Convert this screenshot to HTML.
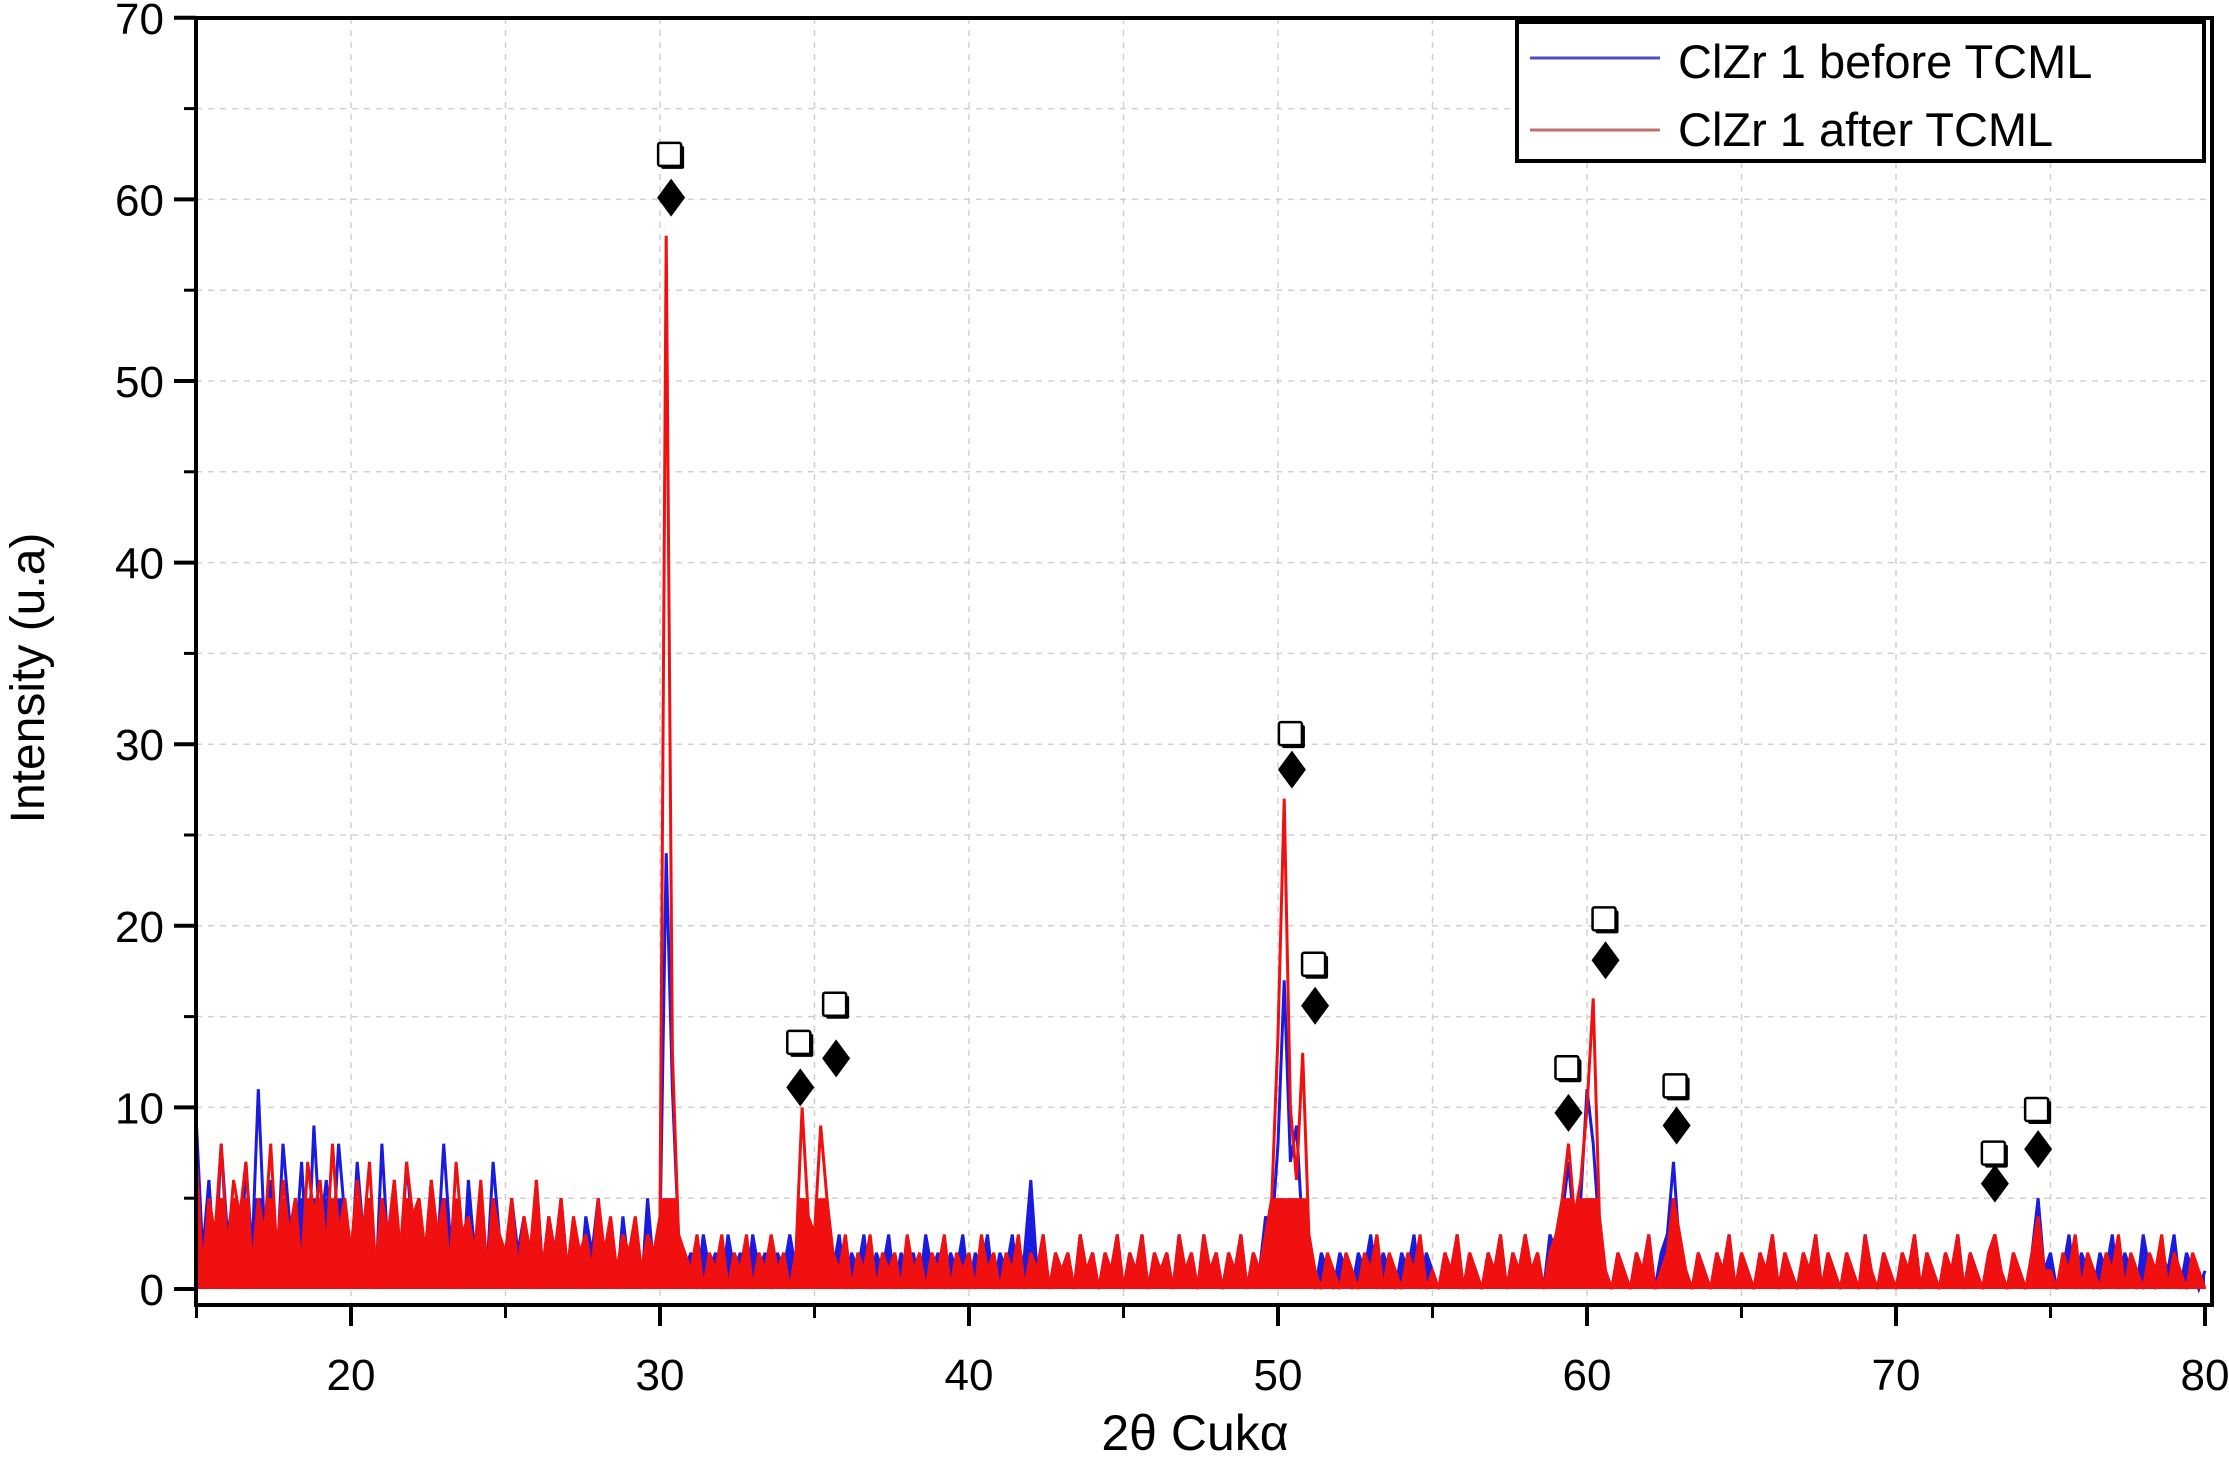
<!DOCTYPE html>
<html><head><meta charset="utf-8"><style>
html,body{margin:0;padding:0;background:#fff;}
svg{display:block;font-family:"Liberation Sans",sans-serif;}
</style></head><body>
<svg id="chart" width="2229" height="1465" viewBox="0 0 2229 1465" xmlns="http://www.w3.org/2000/svg"></svg>
<script>
const xStart = 15, xStep = 0.2;
const beforeTCML = [
9,2,6,1,8,3,5,0,7,2,11,3,6,1,8,4,2,7,1,9,3,6,2,8,4,
1,7,3,5,0,8,2,6,1,7,3,5,1,6,2,8,3,4,0,6,2,5,1,7,3,
1,5,2,4,0,6,1,4,2,5,1,3,0,4,2,5,1,3,0,4,1,3,0,5,1,
3,24,11,3,1,2,0,3,1,2,0,3,1,2,0,3,1,2,0,2,1,3,1,5,3,
2,4,2,1,3,0,2,1,3,0,2,1,3,0,2,1,2,0,3,1,2,0,2,1,3,
0,2,1,3,0,2,1,3,0,2,6,1,3,0,2,1,2,0,3,1,2,0,2,1,3,
0,2,1,3,0,2,1,2,0,3,1,2,0,3,1,2,0,2,1,3,0,2,1,4,3,
8,17,7,9,3,1,0,2,1,0,2,1,0,2,1,3,0,2,1,0,2,1,3,0,2,
1,0,2,1,3,0,2,1,0,2,1,3,0,2,1,3,1,2,0,3,2,4,7,3,5,
11,8,3,1,0,2,1,0,2,1,3,0,2,3,7,2,1,0,2,1,0,2,1,3,0,
2,1,0,2,1,3,0,2,1,0,2,1,3,0,2,1,0,2,1,0,3,1,0,2,1,
0,2,1,3,0,2,1,0,2,1,3,0,2,1,0,2,3,1,0,2,1,0,2,5,1,
2,0,1,3,0,2,1,0,2,1,3,0,2,1,0,3,1,0,2,1,3,0,2,1,0,1];
const afterTCML = [
7,1,5,3,8,2,6,4,7,1,5,3,8,2,6,3,5,1,7,4,6,2,8,3,5,
2,6,3,7,1,5,3,6,2,7,4,5,2,6,3,5,1,7,3,4,2,6,1,5,3,
2,5,1,4,2,6,1,4,2,5,1,4,2,3,1,5,2,4,1,3,2,4,1,3,2,
4,58,13,3,2,1,3,0,2,1,3,0,2,1,3,0,2,1,3,1,2,0,2,10,4,
3,9,5,2,1,3,0,2,1,3,0,2,1,2,0,3,1,2,0,2,1,3,0,2,1,
2,0,3,1,2,0,2,1,3,0,2,1,3,0,2,1,2,0,3,1,2,0,2,1,3,
0,2,1,3,0,2,1,2,0,3,1,2,0,3,1,2,0,2,1,3,0,2,1,3,5,
14,27,10,6,13,3,1,0,2,1,0,2,1,0,2,1,3,0,2,1,0,2,1,3,0,
1,0,2,1,3,0,2,1,0,2,1,3,0,2,1,3,1,2,0,2,3,5,8,4,6,
10,16,4,1,0,2,1,0,2,1,3,0,1,2,5,3,1,0,2,1,0,2,1,3,0,
2,1,0,2,1,3,0,2,1,0,2,1,3,0,2,1,0,2,1,0,3,1,0,2,1,
0,2,1,3,0,2,1,0,2,1,3,0,2,1,0,2,3,1,0,2,1,0,2,4,1,
1,0,2,1,3,0,2,1,0,2,1,3,0,2,1,0,2,1,3,0,2,1,0,2,1,0];
const markerX = [30.36,34.54,35.7,50.45,51.2,59.4,60.6,62.9,73.2,74.6];
const squareY = [62.4,13.5,15.6,30.5,17.8,12.1,20.3,11.1,7.4,9.8];
const diamondY = [60.1,11.1,12.7,28.6,15.6,9.7,18.1,9.0,5.8,7.7];
const xTicks = [20,30,40,50,60,70,80];
const yTicks = [0,10,20,30,40,50,60,70];

const X0=196.5, PX=30.9, Y0=1289, PY=18.16;
const sx = v => X0 + (v-15)*PX;
const sy = v => Y0 - v*PY;
const svg = document.getElementById('chart');
const NS = 'http://www.w3.org/2000/svg';
function mk(tag, attrs, parent){const e=document.createElementNS(NS,tag);for(const k in attrs)e.setAttribute(k,attrs[k]);(parent||svg).appendChild(e);return e;}

const defs = mk('defs',{});
const cp = mk('clipPath',{id:'bandclip'},defs);
mk('rect',{x:196,y:sy(5),width:2016,height:sy(0)-sy(5)+4},cp);

// grid
const grid = mk('g',{});


for(let v=20; v<=75; v+=5){ mk('line',{x1:sx(v),x2:sx(v),y1:18,y2:1305,stroke:'#d0d0d0','stroke-width':1.5,'stroke-dasharray':'6,6'},grid); }
for(let v=5; v<=65; v+=5){ mk('line',{x1:196,x2:2212,y1:sy(v),y2:sy(v),stroke:'#d0d0d0','stroke-width':1.5,'stroke-dasharray':'6,6'},grid); }

// series
function series(arr,color,name){
  const g = mk('g',{});
  
  
  const coords = arr.map((v,i)=>sx(xStart+i*xStep).toFixed(1)+','+sy(v).toFixed(1));
  const first = sx(xStart).toFixed(1), last = sx(xStart+(arr.length-1)*xStep).toFixed(1);
  mk('polygon',{points:first+','+sy(0)+' '+coords.join(' ')+' '+last+','+sy(0),fill:color,stroke:'none','clip-path':'url(#bandclip)'},g);
  mk('polyline',{points:coords.join(' '),fill:'none',stroke:color,'stroke-width':3,'stroke-linejoin':'miter'},g);
}
series(beforeTCML,'#1a1ae0','series-before-tcml');
series(afterTCML,'#f01010','series-after-tcml');

// frame & axes
const ax = mk('g',{});


mk('rect',{x:196,y:18,width:2016,height:1287,fill:'none',stroke:'#000','stroke-width':4},ax);
xTicks.forEach(v=>{
  mk('line',{x1:sx(v),x2:sx(v),y1:1305,y2:1326,stroke:'#000','stroke-width':4},ax);
  const t=mk('text',{x:sx(v),y:1390,'font-size':44,'text-anchor':'middle'},ax); t.textContent=v;
  
  
});
for(let v=15; v<80; v+=10){ mk('line',{x1:sx(v),x2:sx(v),y1:1305,y2:1318,stroke:'#000','stroke-width':3},ax); }
yTicks.forEach(v=>{
  mk('line',{x1:174,x2:196,y1:sy(v),y2:sy(v),stroke:'#000','stroke-width':4},ax);
  const t=mk('text',{x:164,y:sy(v)+16,'font-size':44,'text-anchor':'end'},ax); t.textContent=v;
  
  
});
for(let v=5; v<70; v+=10){ mk('line',{x1:184,x2:196,y1:sy(v),y2:sy(v),stroke:'#000','stroke-width':3},ax); }

// markers
markerX.forEach((mx,i)=>{
  const g=mk('g',{});
  
  
  const cx=sx(mx), qy=sy(squareY[i]), dy=sy(diamondY[i]);
  mk('rect',{x:cx-10,y:qy-10,width:23,height:23,fill:'#000',rx:2},g);
  mk('rect',{x:cx-13,y:qy-13,width:23,height:23,fill:'#fff',stroke:'#000','stroke-width':2.5,rx:2},g);
  mk('polygon',{points:`${cx},${dy-19} ${cx+14},${dy} ${cx},${dy+19} ${cx-14},${dy}`,fill:'#000'},g);
});

// legend
const lg=mk('g',{});


mk('rect',{x:1517,y:22,width:687,height:139,fill:'#fff',stroke:'#000','stroke-width':4},lg);
mk('line',{x1:1530,x2:1660,y1:58,y2:58,stroke:'#5050c0','stroke-width':3},lg);
mk('line',{x1:1530,x2:1660,y1:130,y2:130,stroke:'#c07070','stroke-width':3},lg);
let t1=mk('text',{x:1678,y:78,'font-size':47},lg); t1.textContent='ClZr 1 before TCML';


let t2=mk('text',{x:1678,y:146,'font-size':47},lg); t2.textContent='ClZr 1 after TCML';



// titles
const xt=mk('text',{x:1195,y:1450,'font-size':50,'text-anchor':'middle'}); xt.textContent='2θ Cukα';


const yt=mk('text',{x:0,y:0,'font-size':48,'text-anchor':'middle',transform:'translate(44,678) rotate(-90)'}); yt.textContent='Intensity (u.a)';


</script>
</body></html>
